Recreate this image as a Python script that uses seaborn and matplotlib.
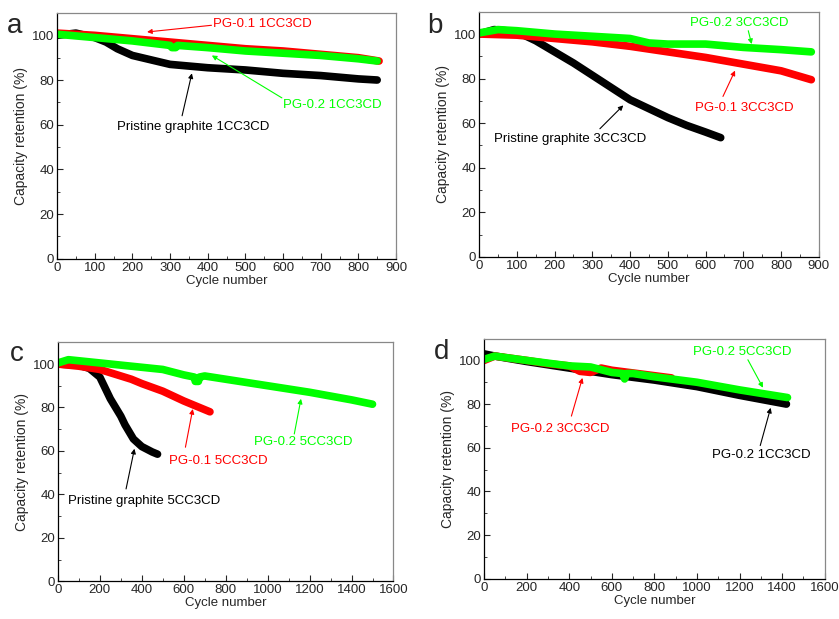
import pandas as pd
import seaborn as sns
import matplotlib.pyplot as plt
from matplotlib.ticker import MultipleLocator

# ---- panel a (1CC3CD) ----
a_pristine_x = [0, 50, 100, 130, 160, 200, 250, 300, 400, 500, 600, 700, 800, 850]
a_pristine_y = [100, 101, 99, 97, 94, 91, 89, 87, 85.5, 84.5, 83, 82, 80.5, 80]
a_pg01_x = [0, 100, 200, 300, 400, 500, 600, 700, 800, 855]
a_pg01_y = [101, 100, 98.5, 97, 95.5, 94, 93, 91.5, 90, 88.5]
a_pg02_x = [0, 100, 200, 300, 305, 315, 320, 400, 500, 600, 700, 800, 850]
a_pg02_y = [100.5, 99, 97.5, 95.5, 94.5, 94.5, 95.5, 94.5, 93, 92, 91, 89.5, 88.5]

# ---- panel b (3CC3CD) ----
b_pristine_x = [0, 40, 100, 150, 200, 250, 300, 350, 400, 450, 500, 550, 600, 640]
b_pristine_y = [100, 102, 101, 97, 92, 87, 81.5, 76, 70.5, 66.5, 62.5, 59, 56, 53.5]
b_pg01_x = [0, 100, 200, 300, 400, 500, 600, 700, 800, 880]
b_pg01_y = [100, 99.5, 98, 96.5, 94.5, 92, 89.5, 86.5, 83.5, 79.5]
b_pg02_x = [0, 50, 100, 200, 300, 400, 450, 500, 600, 700, 800, 880]
b_pg02_y = [100.5, 102, 101.5, 100, 99, 98, 96, 95.5, 95.5, 94, 93, 92]

# ---- panel c (5CC3CD) ----
c_pristine_x = [0, 100, 150, 200, 250, 300, 320, 360, 400, 450, 475]
c_pristine_y = [100, 99.5, 98, 94, 84, 76, 72, 65.5, 62, 59.5, 58.5]
c_pg01_x = [0, 100, 200, 300, 350, 400, 500, 600, 700, 725]
c_pg01_y = [100, 99, 97.5, 94.5, 93, 91, 87.5, 83, 79, 78]
c_pg02_x = [0, 50, 100, 200, 400, 500, 600, 650, 655, 670, 675, 700, 800, 1000, 1200, 1400, 1500]
c_pg02_y = [100.5, 102, 101.5, 100.5, 98.5, 97.5, 95, 94, 92, 92, 94, 94.5, 93, 90, 87, 83.5, 81.5]

# ---- panel d (PG-0.2 at different rates) ----
d_1c_x = [0, 50, 200, 400, 600, 800, 1000, 1200, 1420]
d_1c_y = [103, 102, 99.5, 96.5, 93.5, 91, 88, 84, 80]
d_3c_x = [0, 50, 200, 300, 400, 450, 500, 550, 600, 800, 880]
d_3c_y = [100, 102, 100, 98.5, 97.5, 95, 94.5, 96.5, 95.5, 93, 92]
d_5c_x = [0, 50, 200, 400, 500, 600, 650, 660, 670, 700, 800, 1000, 1200, 1425]
d_5c_y = [100.5, 102, 100, 97.5, 97, 94.5, 94, 91.5, 94, 94, 92.5, 90, 86.5, 83]

BLACK, RED, GREEN = "#000000", "#ff0000", "#00ff00"

sns.set_style("ticks")
plt.rcParams["font.family"] = ["Liberation Sans", "DejaVu Sans"]

fig = plt.figure(figsize=(8.39, 6.19), dpi=100)


def make_axes(rect, xmax, xmajor, letter, letter_xy):
    ax = fig.add_axes(rect)
    ax.set_xlim(0, xmax)
    ax.set_ylim(0, 110)
    ax.xaxis.set_major_locator(MultipleLocator(xmajor))
    ax.xaxis.set_minor_locator(MultipleLocator(xmajor / 2))
    ax.yaxis.set_major_locator(MultipleLocator(20))
    ax.yaxis.set_minor_locator(MultipleLocator(10))
    ax.tick_params(which="both", direction="in", labelsize=9.5, pad=2)
    ax.tick_params(which="major", length=4)
    ax.tick_params(which="minor", length=2)
    for side in ["top", "right"]:
        ax.spines[side].set_color("#888888")
    for side in ["left", "bottom"]:
        ax.spines[side].set_color("black")
    for sp in ax.spines.values():
        sp.set_linewidth(0.9)
    ax.set_xlabel("Cycle number", fontsize=9.5, labelpad=1)
    ax.set_ylabel("Capacity retention (%)", fontsize=10, labelpad=3)
    fig.text(letter_xy[0], letter_xy[1], letter, fontsize=20, ha="left", va="center")
    return ax


def draw(ax, xs, ys, color):
    df = pd.DataFrame({"cycle": xs, "retention": ys})
    sns.lineplot(data=df, x="cycle", y="retention", color=color, lw=5.5,
                 ax=ax, solid_capstyle="round")


def label(ax, text, pos, tail, tip, color):
    ax.text(pos[0], pos[1], text, color=color, fontsize=9.5, ha="left", va="center")
    ax.annotate("", xy=tip, xytext=tail,
                arrowprops=dict(arrowstyle="-|>", color=color, lw=0.8,
                                mutation_scale=7, shrinkA=0, shrinkB=0))


# panel a
ax = make_axes([0.068, 0.582, 0.404, 0.397], 900, 100, "a", (0.008, 0.958))
draw(ax, a_pristine_x, a_pristine_y, BLACK)
draw(ax, a_pg01_x, a_pg01_y, RED)
draw(ax, a_pg02_x, a_pg02_y, GREEN)
label(ax, "PG-0.1 1CC3CD", (414, 105), (410, 104.5), (239, 101.5), RED)
label(ax, "PG-0.2 1CC3CD", (600, 69), (597, 72), (411, 91), GREEN)
label(ax, "Pristine graphite 1CC3CD", (160, 59), (332, 64), (358, 83), BLACK)

# panel b
ax = make_axes([0.571, 0.585, 0.405, 0.396], 900, 100, "b", (0.509, 0.958))
draw(ax, b_pristine_x, b_pristine_y, BLACK)
draw(ax, b_pg01_x, b_pg01_y, RED)
draw(ax, b_pg02_x, b_pg02_y, GREEN)
label(ax, "PG-0.2 3CC3CD", (558, 105), (713, 101.5), (722, 95.5), GREEN)
label(ax, "PG-0.1 3CC3CD", (572, 67), (646, 72), (678, 83.6), RED)
label(ax, "Pristine graphite 3CC3CD", (39, 53), (320, 57.5), (382, 68), BLACK)

# panel c
ax = make_axes([0.069, 0.061, 0.400, 0.386], 1600, 200, "c", (0.012, 0.428))
draw(ax, c_pristine_x, c_pristine_y, BLACK)
draw(ax, c_pg01_x, c_pg01_y, RED)
draw(ax, c_pg02_x, c_pg02_y, GREEN)
label(ax, "PG-0.2 5CC3CD", (937, 64), (1127, 67.8), (1159, 84), GREEN)
label(ax, "PG-0.1 5CC3CD", (532, 55.5), (608, 61.7), (643, 79.3), RED)
label(ax, "Pristine graphite 5CC3CD", (48, 37), (325, 42.5), (365, 61), BLACK)

# panel d
ax = make_axes([0.577, 0.065, 0.406, 0.388], 1600, 200, "d", (0.517, 0.432))
draw(ax, d_1c_x, d_1c_y, BLACK)
draw(ax, d_3c_x, d_3c_y, RED)
draw(ax, d_5c_x, d_5c_y, GREEN)
label(ax, "PG-0.2 5CC3CD", (981, 104), (1239, 100.3), (1310, 87.5), GREEN)
label(ax, "PG-0.2 3CC3CD", (124, 68.4), (410, 74.5), (462, 92), RED)
label(ax, "PG-0.2 1CC3CD", (1072, 56.6), (1297, 61), (1346, 78.3), BLACK)

fig.savefig("out.png", dpi=100)
